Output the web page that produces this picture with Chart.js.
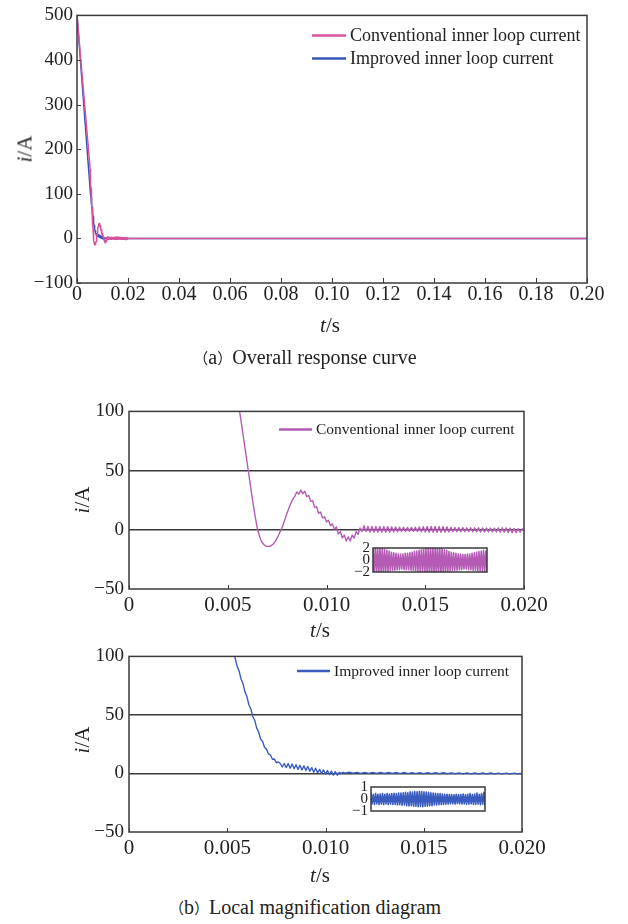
<!DOCTYPE html>
<html>
<head>
<meta charset="utf-8">
<script src="https://cdn.jsdelivr.net/npm/chart.js@4.4.1/dist/chart.umd.min.js"></script>
<style>
  body { margin: 0; background: #fff; }
  #page { position: relative; width: 628px; height: 924px; overflow: hidden;
          font-family: "Liberation Serif", serif; color: #222; }
  canvas { position: absolute; }
  .lbl { position: absolute; transform: translate(-50%, -50%); white-space: nowrap; font-size: 21px; }
  .rot { transform: translate(-50%, -50%) rotate(-90deg); }
  .cap { position: absolute; transform: translate(-50%, -50%); white-space: nowrap; font-size: 20px; }
  .paren { font-family: "Noto Sans CJK SC", sans-serif; font-size: 15px; }
</style>
</head>
<body>
<div id="page">
  <canvas id="overall" width="628" height="315" style="left:0;top:0"></canvas>
  <canvas id="convZoom" width="628" height="222" style="left:0;top:395px"></canvas>
  <canvas id="imprZoom" width="628" height="220" style="left:0;top:640px"></canvas>
  <canvas id="convInset" width="150" height="48" style="left:340px;top:536px"></canvas>
  <canvas id="imprInset" width="150" height="48" style="left:338px;top:775px"></canvas>

  <div class="lbl rot" style="left:25px;top:149px"><i>i</i>/A</div>
  <div class="lbl" style="left:330px;top:325px"><i>t</i>/s</div>
  <div class="cap" style="left:305px;top:357px"><span class="paren">（</span>a<span class="paren">）</span>Overall response curve</div>

  <div class="lbl rot" style="left:82px;top:500px"><i>i</i>/A</div>
  <div class="lbl" style="left:320px;top:630px"><i>t</i>/s</div>

  <div class="lbl rot" style="left:82px;top:740px"><i>i</i>/A</div>
  <div class="lbl" style="left:320px;top:875px"><i>t</i>/s</div>
  <div class="cap" style="left:305px;top:907px"><span class="paren">（</span>b<span class="paren">）</span>Local magnification diagram</div>
</div>
<script>
// time in ms, current in A
const convT = [0,
  5.0, 5.1, 5.2, 5.3, 5.4, 5.5, 5.6, 5.7, 5.8, 5.9,
  6.0, 6.1, 6.2, 6.3, 6.4, 6.5, 6.6, 6.7, 6.8, 6.9,
  7.0, 7.1, 7.2, 7.3, 7.4, 7.5, 7.6, 7.7, 7.8, 7.9,
  8.0, 8.1, 8.2, 8.3, 8.4, 8.5, 8.6, 8.7, 8.8, 8.9,
  9.0, 9.1, 9.2, 9.3, 9.4, 9.5, 9.6, 9.7, 9.8, 9.9,
  10.0, 10.1, 10.2, 10.3, 10.4, 10.5, 10.6, 10.7, 10.8, 10.9,
  11.0, 11.1, 11.2, 11.3, 11.4, 11.5, 11.6, 11.7, 11.8, 11.9,
  12.0, 12.1, 12.2, 12.3, 12.4, 12.5, 12.6, 12.7, 12.8, 12.9,
  13.0, 13.1, 13.2, 13.3, 13.4, 13.5, 13.6, 13.7, 13.8, 13.9,
  14.0, 14.1, 14.2, 14.3, 14.4, 14.5, 14.6, 14.7, 14.8, 14.9,
  15.0, 15.1, 15.2, 15.3, 15.4, 15.5, 15.6, 15.7, 15.8, 15.9,
  16.0, 16.1, 16.2, 16.3, 16.4, 16.5, 16.6, 16.7, 16.8, 16.9,
  17.0, 17.1, 17.2, 17.3, 17.4, 17.5, 17.6, 17.7, 17.8, 17.9,
  18.0, 18.1, 18.2, 18.3, 18.4, 18.5, 18.6, 18.7, 18.8, 18.9,
  19.0, 19.1, 19.2, 19.3, 19.4, 19.5, 19.6, 19.7, 19.8, 19.9,
  20.0, 30, 60, 100, 150, 200];
const convI = [500,
  166, 155, 144, 133, 122, 111, 100, 89, 77.5, 66,
  54.5, 43, 31.5, 20.5, 10, 1, -5, -9.5, -12, -13.5,
  -14, -14, -13.5, -12, -10, -7, -3.5, 0, 4, 9,
  14, 18.5, 22.5, 26, 28.5, 32, 30, 33.5, 30.5, 32.5,
  28, 29, 24, 24.5, 19, 19.5, 14, 15, 10, 11,
  6.5, 8, 3.5, 5, 0.5, 2.5, -3.5, -1.5, -7, -4.5,
  -9.5, -6, -9.5, -4.5, -7, -1.5, -4, 1.5, -1.5, 3.5,
  -1.5, 2.8, -2, 2.8, -2, 2.8, -2, 2.8, -2, 2.8,
  -2, 2.7, -2, 2.5, -1.8, 2.4, -1.7, 2.2, -1.5, 2.2,
  -1.5, 2, -1.3, 2, -1.3, 2.1, -1.4, 2.4, -1.7, 2.6,
  -1.9, 2.8, -2.1, 2.8, -2.1, 2.9, -2.2, 2.8, -2.1, 2.7,
  -2, 2.5, -1.8, 2.2, -1.7, 2, -1.5, 1.8, -1.5, 1.8,
  -1.5, 1.7, -1.6, 1.7, -1.6, 1.7, -1.7, 1.7, -1.8, 1.6,
  -1.7, 1.5, -1.7, 1.4, -1.8, 1.5, -1.9, 1.6, -2, 1.7,
  -2.1, 1.6, -2.3, 1.4, -2.5, 1.2, -2.4, 1, -2, 0.8,
  -0.5, 0, 0, 0, 0, 0];

const imprT = [0,
  5.0, 5.1, 5.2, 5.3, 5.4, 5.5, 5.6, 5.7, 5.8, 5.9,
  6.0, 6.1, 6.2, 6.3, 6.4, 6.5, 6.6, 6.7, 6.8, 6.9,
  7.0, 7.1, 7.2, 7.3, 7.4, 7.5, 7.6, 7.7, 7.8, 7.9,
  8.0, 8.1, 8.2, 8.3, 8.4, 8.5, 8.6, 8.7, 8.8, 8.9,
  9.0, 9.1, 9.2, 9.3, 9.4, 9.5, 9.6, 9.7, 9.8, 9.9,
  10.0, 10.1, 10.2, 10.3, 10.4, 10.5, 10.6, 10.7, 10.8, 10.9,
  11.0, 11.2, 11.4, 11.6, 11.8, 12.0, 12.2, 12.4, 12.6, 12.8,
  13.0, 13.2, 13.4, 13.6, 13.8, 14.0, 14.2, 14.4, 14.6, 14.8,
  15.0, 15.2, 15.4, 15.6, 15.8, 16.0, 16.2, 16.4, 16.6, 16.8,
  17.0, 17.2, 17.4, 17.6, 17.8, 18.0, 18.2, 18.4, 18.6, 18.8,
  19.0, 19.2, 19.4, 19.6, 19.8, 20.0, 30, 60, 100, 150, 200];
const imprI = [500,
  121.8, 114.2, 109.8, 102.7, 98.8, 91.7, 87.8, 80.7, 76.8, 69.7,
  65.8, 58.7, 55.3, 48.7, 45.3, 38.7, 35.3, 29.2, 27.3, 22.2,
  20.8, 16.7, 15.8, 12.2, 12.3, 9.2, 9.8, 8.5, 5.5, 8.5,
  5, 8.5, 4.5, 8, 4, 7.5, 3.5, 7, 3, 6.5,
  2.5, 6, 2, 5, 1, 4.5, 0.5, 3.5, 0, 3,
  -0.5, 2.5, -1, 2, -1.5, 1.5, -1.5, 1, 0, 1,
  0.2, 1, 0.2, 0.9, 0.1, 0.9, 0.1, 0.9, 0, 0.8,
  0, 0.8, 0, 0.8, -0.1, 0.8, -0.1, 0.7, -0.1, 0.7,
  -0.2, 0.7, -0.2, 0.6, -0.2, 0.6, -0.2, 0.5, -0.2, 0.5,
  -0.3, 0.5, -0.3, 0.4, -0.3, 0.4, -0.3, 0.4, -0.3, 0.3,
  -0.3, 0.3, -0.3, 0.3, -0.3, 0, 0, 0, 0, 0, 0];

// magnified steady-state ripple shown in the small boxes
const convInsetI = [
  2.1, -2.3, 2.2, -2.2, 2.0, -2.3, 2.1, -2.1, 1.9, -2.2,
  1.8, -2.0, 1.6, -1.9, 1.5, -1.8, 1.3, -1.7, 1.2, -1.7,
  1.1, -1.6, 1.0, -1.6, 1.0, -1.5, 1.0, -1.6, 1.1, -1.6,
  1.1, -1.6, 1.2, -1.7, 1.3, -1.7, 1.4, -1.8, 1.5, -1.9,
  1.6, -1.9, 1.7, -2.0, 1.8, -2.1, 1.9, -2.1, 2.0, -2.2,
  2.1, -2.2, 2.1, -2.3, 2.2, -2.3, 2.1, -2.2, 2.0, -2.2,
  1.9, -2.1, 1.7, -2.0, 1.6, -1.9, 1.4, -1.8, 1.3, -1.8,
  1.2, -1.7, 1.1, -1.7, 1.0, -1.6, 1.0, -1.6, 0.9, -1.5,
  0.9, -1.5, 1.0, -1.6, 1.0, -1.6, 1.1, -1.7, 1.2, -1.7,
  1.3, -1.8, 1.4, -1.8, 1.5, -1.9, 1.6, -2.0, 1.5, -2.0];
const imprInsetI = [
  0.45, -0.4, 0.4, -0.45, 0.45, -0.4, 0.4, -0.45, 0.42, -0.42,
  0.45, -0.45, 0.4, -0.4, 0.45, -0.45, 0.42, -0.42, 0.45, -0.45,
  0.48, -0.46, 0.45, -0.5, 0.5, -0.48, 0.5, -0.52, 0.52, -0.5,
  0.55, -0.55, 0.52, -0.58, 0.6, -0.55, 0.58, -0.6, 0.62, -0.6,
  0.6, -0.65, 0.65, -0.62, 0.62, -0.65, 0.6, -0.6, 0.58, -0.6,
  0.55, -0.55, 0.52, -0.55, 0.5, -0.5, 0.48, -0.5, 0.45, -0.48,
  0.45, -0.45, 0.42, -0.45, 0.4, -0.42, 0.4, -0.42, 0.38, -0.4,
  0.38, -0.4, 0.36, -0.42, 0.4, -0.38, 0.36, -0.4, 0.38, -0.42,
  0.42, -0.4, 0.36, -0.44, 0.4, -0.42, 0.45, -0.4, 0.38, -0.46,
  0.42, -0.44, 0.5, -0.42, 0.4, -0.48, 0.46, -0.44, 0.55, -0.5];

const convLabel = 'Conventional inner loop current';
const imprLabel = 'Improved inner loop current';

Chart.defaults.font.family = '"Liberation Serif", serif';
Chart.defaults.color = '#222';

const pts = (xs, ys) => xs.map((x, i) => ({ x: x, y: ys[i] }));
const minus = v => String(v).replace('-', '\u2212');

// box round the plot area, inward ticks, white fill for the insets
const framePlugin = {
  id: 'frame',
  beforeDatasetsDraw(chart, args, o) {
    if (!o.fill) return;
    const a = chart.chartArea;
    chart.ctx.save();
    chart.ctx.fillStyle = o.fill;
    chart.ctx.fillRect(a.left, a.top, a.right - a.left, a.bottom - a.top);
    chart.ctx.restore();
  },
  afterDatasetsDraw(chart, args, o) {
    const a = chart.chartArea, ctx = chart.ctx;
    ctx.save();
    ctx.strokeStyle = '#3a3a3a';
    ctx.lineWidth = o.width || 1.5;
    ctx.strokeRect(a.left, a.top, a.right - a.left, a.bottom - a.top);
    ctx.lineWidth = 1;
    if (o.xTick) {
      const sx = chart.scales.x;
      sx.ticks.forEach(t => {
        const px = Math.round(sx.getPixelForValue(t.value)) + 0.5;
        ctx.beginPath(); ctx.moveTo(px, a.bottom); ctx.lineTo(px, a.bottom - o.xTick); ctx.stroke();
      });
    }
    if (o.yTick) {
      const sy = chart.scales.y;
      sy.ticks.forEach(t => {
        const py = Math.round(sy.getPixelForValue(t.value)) + 0.5;
        ctx.beginPath(); ctx.moveTo(a.left, py); ctx.lineTo(a.left + o.yTick, py); ctx.stroke();
      });
    }
    ctx.restore();
  }
};

const legendPlugin = {
  id: 'insideLegend',
  afterDraw(chart, args, o) {
    if (!o.size) return;
    const a = chart.chartArea, ctx = chart.ctx;
    ctx.save();
    ctx.font = o.size + 'px "Liberation Serif"';
    ctx.textBaseline = 'middle';
    chart.data.datasets.forEach((ds, i) => {
      const x = a.left + o.x, y = a.top + o.y + i * o.gap;
      ctx.strokeStyle = ds.borderColor;
      ctx.lineWidth = 2.5;
      ctx.beginPath(); ctx.moveTo(x, y); ctx.lineTo(x + o.len, y); ctx.stroke();
      ctx.fillStyle = '#222';
      ctx.fillText(ds.label, x + o.len + 4, y + 1);
    });
    ctx.restore();
  }
};

function plot(id, datasets, o) {
  return new Chart(document.getElementById(id), {
    type: 'line',
    data: { datasets: datasets },
    plugins: [framePlugin, legendPlugin],
    options: {
      responsive: false,
      animation: false,
      events: [],
      layout: { padding: o.padding },
      elements: {
        point: { radius: 0 },
        line: { tension: 0, borderJoinStyle: 'round', borderCapStyle: 'round' }
      },
      plugins: {
        legend: { display: false },
        tooltip: { enabled: false },
        frame: o.frame,
        insideLegend: o.legend || {}
      },
      scales: {
        x: {
          type: 'linear', min: o.xMin, max: o.xMax, display: o.xShow !== false,
          grid: { display: false, drawTicks: false },
          border: { display: false },
          ticks: { stepSize: o.xStep, autoSkip: false, maxRotation: 0, padding: o.xPad,
                   font: { size: o.xFont }, callback: o.xFmt },
          afterFit: s => { s.height = o.xH; }
        },
        y: {
          min: o.yMin, max: o.yMax,
          grid: o.yGrid || { display: false, drawTicks: false },
          border: { display: false },
          ticks: { stepSize: o.yStep, autoSkip: false, padding: o.yPad,
                   font: { size: o.yFont }, callback: v => minus(v) },
          afterFit: s => { s.width = o.yW; }
        }
      }
    }
  });
}

const grid50 = {
  drawTicks: false, lineWidth: 1.5,
  color: c => (c.tick.value === 0 || c.tick.value === 50) ? '#3a3a3a' : 'rgba(0,0,0,0)'
};

// (a) overall response, 0-0.2 s
plot('overall', [
  { label: convLabel, data: pts(convT, convI), borderColor: '#d8539f', borderWidth: 1.5 },
  { label: imprLabel, data: pts(imprT, imprI), borderColor: '#3556b8', borderWidth: 1.5 }
], {
  padding: { top: 11, right: 41, left: 0, bottom: 0 },
  xMin: 0, xMax: 200, xStep: 20, xFont: 20, xPad: 0, xH: 32,
  xFmt: v => v === 0 ? '0' : (v / 1000).toFixed(2),
  yMin: -100, yMax: 500, yStep: 100, yFont: 19, yPad: 4, yW: 77,
  frame: { xTick: 5, yTick: 4 },
  legend: { x: 235, y: 20, gap: 23, len: 34, size: 18 }
});

// (b) zoom on the first 0.02 s
plot('convZoom', [
  { label: convLabel, data: pts(convT, convI), borderColor: '#b55bb6', borderWidth: 1.4 }
], {
  padding: { top: 15, right: 104, left: 0, bottom: 0 },
  xMin: 0, xMax: 20, xStep: 5, xFont: 21, xPad: 4, xH: 28,
  xFmt: v => v === 0 ? '0' : (v / 1000).toFixed(3),
  yMin: -50, yMax: 100, yStep: 50, yFont: 19, yPad: 5, yW: 129, yGrid: grid50,
  frame: { xTick: 4 },
  legend: { x: 150, y: 18, gap: 0, len: 33, size: 15.5 }
});

plot('imprZoom', [
  { label: imprLabel, data: pts(imprT, imprI), borderColor: '#3a5cbf', borderWidth: 1.4 }
], {
  padding: { top: 15, right: 106, left: 0, bottom: 0 },
  xMin: 0, xMax: 20, xStep: 5, xFont: 21, xPad: 4, xH: 28,
  xFmt: v => v === 0 ? '0' : (v / 1000).toFixed(3),
  yMin: -50, yMax: 100, yStep: 50, yFont: 19, yPad: 5, yW: 129, yGrid: grid50,
  frame: { xTick: 4 },
  legend: { x: 168, y: 14.5, gap: 0, len: 33, size: 15.5 }
});

// insets: sample index on x
plot('convInset', [
  { label: '', data: convInsetI.map((v, i) => ({ x: i, y: v })), borderColor: '#b55bb6', borderWidth: 1.6 }
], {
  padding: { top: 8, right: 3, left: 0, bottom: 8 },
  xShow: false, xMin: 0, xMax: convInsetI.length - 1, xStep: 10, xFont: 10, xPad: 0, xH: 0,
  yMin: -2, yMax: 2, yStep: 2, yFont: 15, yPad: 3, yW: 33,
  frame: { fill: '#fff', width: 1.5 }
});

plot('imprInset', [
  { label: '', data: imprInsetI.map((v, i) => ({ x: i, y: v })), borderColor: '#3a5cbf', borderWidth: 1.6 }
], {
  padding: { top: 8, right: 3, left: 0, bottom: 8 },
  xShow: false, xMin: 0, xMax: imprInsetI.length - 1, xStep: 10, xFont: 10, xPad: 0, xH: 0,
  yMin: -1, yMax: 1, yStep: 1, yFont: 15, yPad: 3, yW: 33,
  frame: { fill: '#fff', width: 1.5 }
});
</script>
</body>
</html>
